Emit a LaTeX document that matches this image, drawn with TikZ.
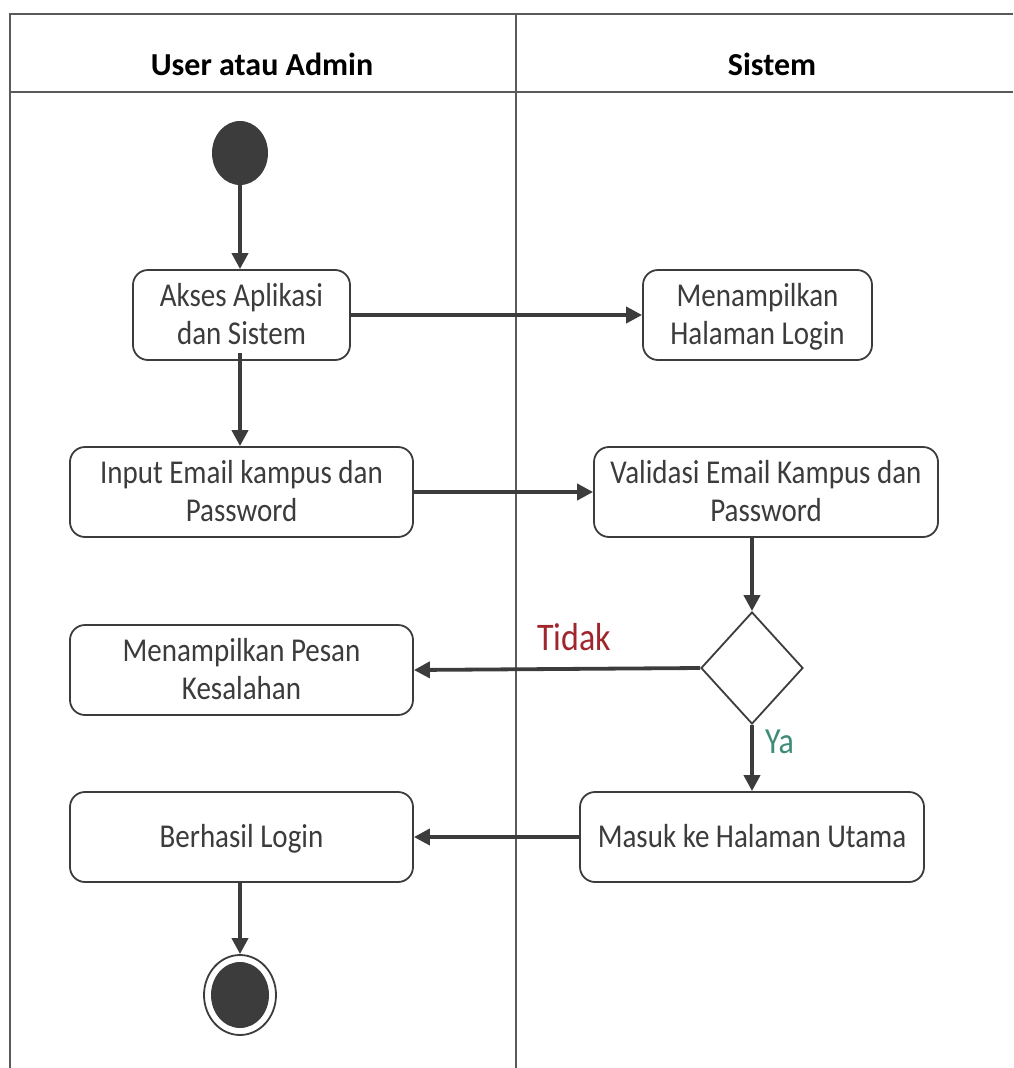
\documentclass[tikz,border=0pt]{standalone}
\usepackage{fontspec}
\usepackage{graphicx}
\setmainfont{Carlito}
\usetikzlibrary{arrows.meta,shapes.geometric}
\definecolor{ink}{HTML}{3C3C3C}
\definecolor{lane}{HTML}{5A5A5A}
\definecolor{nored}{HTML}{A0262E}
\definecolor{yesgreen}{HTML}{3E8C78}
% tall, slightly condensed lettering, set a little low in its box
\newcommand\tall[1]{\raisebox{-3pt}[\height][\depth]{\scalebox{1}[1.15]{\begin{tabular}{@{}c@{}}#1\end{tabular}}}}
\newcommand\tallc[1]{\scalebox{1}[1.15]{\begin{tabular}{@{}c@{}}#1\end{tabular}}}
\begin{document}
\begin{tikzpicture}[x=1pt,y=-1pt,
  lanes/.style={draw=lane,line width=2.6pt},
  act/.style={draw=ink,line width=1.8pt,rounded corners=15pt,fill=white,
    align=center,text=ink,font=\fontsize{29}{33}\selectfont,inner sep=0pt},
  flow/.style={draw=ink,line width=3.8pt,-{Triangle[length=16pt,width=16pt]}},
  hdr/.style={font=\fontsize{32}{34}\selectfont\bfseries,text=black,inner sep=0pt}]
\useasboundingbox (0,0) rectangle (1013,1068);
% swimlane frame
\draw[lanes] (1013,14) -- (10,14) -- (10,1068);
\draw[lanes] (10,92) -- (1013,92);
\draw[lanes] (516,14) -- (516,1068);
\node[hdr] (h1) at (262,64) {User atau Admin};
\node[hdr] (h2) at (772,64) {Sistem};
% start and end
\node[ellipse,fill=ink,minimum width=56pt,minimum height=64pt,inner sep=0pt] (start) at (240,153) {};
\node[ellipse,draw=ink,line width=1.8pt,minimum width=72pt,minimum height=80pt,inner sep=0pt] (endo) at (240,995) {};
\node[ellipse,fill=ink,minimum width=58pt,minimum height=66pt,inner sep=0pt] (endi) at (240,995) {};
% activities
\node[act,minimum width=217pt,minimum height=90pt] (akses) at (241.5,315) {\tall{Akses Aplikasi\\dan Sistem}};
\node[act,minimum width=229pt,minimum height=90pt] (login) at (757.5,315) {\tall{Menampilkan\\Halaman Login}};
\node[act,minimum width=343pt,minimum height=90pt] (input) at (241.5,492) {\tall{Input Email kampus dan\\Password}};
\node[act,minimum width=344pt,minimum height=90pt] (valid) at (766,492) {\tall{Validasi Email Kampus dan\\Password}};
\node[act,minimum width=343pt,minimum height=90pt] (pesan) at (241.5,670) {\tall{Menampilkan Pesan\\Kesalahan}};
\node[act,minimum width=343pt,minimum height=90pt] (berhasil) at (241.5,837) {\tall{Berhasil Login}};
\node[act,minimum width=344pt,minimum height=90pt] (masuk) at (752,837) {\tall{Masuk ke Halaman Utama}};
\node[diamond,draw=ink,line width=1.8pt,fill=white,minimum width=102pt,minimum height=112pt,inner sep=0pt,aspect=0.91] (dec) at (752,668) {};
% flows
\draw[flow] (start) -- (akses.north -| start);
\draw[flow] (akses) -- (login);
\draw[flow] ([yshift=8pt]akses.south -| start) -- (input.north -| start);
\draw[flow] (input.east) -- (valid.west);
\draw[flow] (valid.south -| dec) -- (dec.north);
\draw[flow] (dec.west) -- node[above=1pt,text=nored,font=\fontsize{34}{36}\selectfont,pos=0.44] (tidak) {\tallc{Tidak}} (pesan.east);
\draw[flow] (dec.south) -- node[right=8pt,text=yesgreen,font=\fontsize{32}{34}\selectfont,pos=0.32] (ya) {\tallc{Ya}} (masuk.north);
\draw[flow] (masuk.west) -- (berhasil.east);
\draw[flow] (berhasil.south -| start) -- (endo.north);
\end{tikzpicture}
\end{document}
